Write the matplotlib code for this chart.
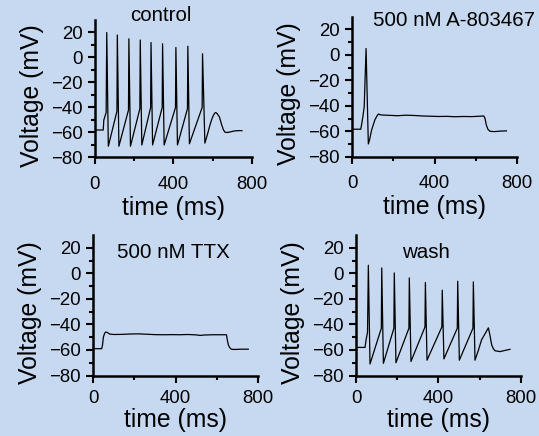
import matplotlib
matplotlib.use('Agg')
import matplotlib.pyplot as plt
from matplotlib.ticker import MultipleLocator

plt.rcParams['font.family'] = ['Liberation Sans', 'DejaVu Sans']

# traces: (time in ms, membrane voltage in mV) vertices
control_t = [0, 42, 45, 57, 60, 68, 112, 114, 122, 171, 173, 181, 229, 231, 239,
             284, 286, 294, 343, 345, 353, 411, 413, 421, 472, 474, 482, 547, 549,
             561, 575, 587, 597, 604, 611, 617, 624, 635, 647, 656, 664, 675, 689,
             710, 730, 750]
control_v = [-58, -58, -50, -44, 20, -71, -43, 18, -71, -42, 15, -71, -41, 14, -70,
             -40, 12, -70, -40, 11, -70, -40, 8, -70, -41, 9, -69, -40, 3,
             -68.5, -61, -54, -49, -46.5, -44.5, -44, -45, -47.5, -54, -58, -59.8, -60, -59.6,
             -58.8, -58.5, -58.5]

a803_t = [0, 41, 45, 52, 58, 67, 78, 85, 94, 110, 120, 127, 140, 180, 220, 260, 300,
          340, 380, 420, 460, 500, 540, 580, 620, 640, 646, 652, 660, 670, 690, 720, 750]
a803_v = [-58.4, -58.4, -55, -48, -40.5, 5, -70, -66, -59, -51, -48, -46.5, -47.2, -47.5,
          -47.8, -47.4, -47.6, -48, -48.2, -48.4, -48.3, -48.6, -48.4, -48.5, -48.2, -48,
          -50, -55, -58.5, -60, -60.3, -59.9, -59.7]

ttx_t = [0, 41, 45, 49, 55, 60, 68, 80, 100, 140, 180, 220, 260, 300, 340, 380, 420,
         460, 500, 520, 540, 580, 620, 648, 652, 657, 665, 673, 690, 720, 754]
ttx_v = [-59, -59, -56, -50, -47, -46, -46.3, -47.6, -47.9, -47.8, -47.5, -47.4, -47.7,
         -48.0, -48.1, -48.0, -48.1, -47.9, -48.2, -48.6, -48.3, -48.1, -48.1, -48.1,
         -52, -56, -58.5, -59.5, -59.6, -59.4, -59.4]

wash_t = [0, 44, 48, 56, 60, 68, 123, 125, 133, 184, 186, 194, 257, 259, 267, 335, 337,
          345, 417, 419, 427, 492, 494, 502, 568, 570, 578, 595, 610, 628, 643, 650, 659,
          667, 675, 699, 720, 748]
wash_v = [-58, -58, -53, -46, 6.3, -71, -43, 4.2, -70.5, -43, 0.3, -70, -43, -3.6, -69,
          -42, -7.2, -68, -42, -13.2, -67, -43, -6.2, -68, -43, -6.7, -68, -60, -52, -47,
          -42.7, -48, -56, -59, -60.6, -61.3, -60.5, -59.5]

titles = ['control', '500 nM A-803467', '500 nM TTX', 'wash']
traces = [(control_t, control_v), (a803_t, a803_v), (ttx_t, ttx_v), (wash_t, wash_v)]

# title anchor in data units (t, V)
title_pos = [(335, 33.5), (495, 27.3), (391, 16.5), (341, 16.5)]

W, H = 539, 436
# axes boxes in pixels: left, right, top, bottom
boxes = [(95, 251.7, 20, 157.5), (352.3, 516.7, 16.7, 156.7),
         (93.3, 257.7, 235, 375.5), (356, 520.7, 235, 375.5)]

bg = '#c6d9f0'
fig = plt.figure(figsize=(W / 100, H / 100), dpi=100, facecolor=bg)

for i in range(4):
    l, r, t, b = boxes[i]
    ax = fig.add_axes([l / W, (H - b) / H, (r - l) / W, (b - t) / H])
    ax.set_facecolor('none')
    ax.plot(traces[i][0], traces[i][1], color='black', linewidth=0.9)
    ax.set_xlim(0, 800)
    ax.set_ylim(-80, 30)
    for s in ['top', 'right']:
        ax.spines[s].set_visible(False)
    for s in ['left', 'bottom']:
        ax.spines[s].set_linewidth(1.8)
    ax.set_xticks([0, 400, 800])
    ax.xaxis.set_minor_locator(MultipleLocator(200))
    ax.set_yticks([-80, -60, -40, -20, 0, 20])
    ax.set_yticks([-70, -50, -30, -10, 10], minor=True)
    ax.tick_params(which='major', direction='out', length=5, width=1.5, labelsize=13.4)
    ax.tick_params(which='minor', direction='out', length=2.8, width=1.5)
    ax.tick_params(axis='x', pad=8 if i < 2 else 5.5)
    ax.tick_params(axis='y', pad=4)
    ax.set_xlabel('time (ms)', fontsize=17.8, labelpad=2.5 if i < 2 else 0.5)
    ax.set_ylabel('Voltage (mV)', fontsize=17.8)
    ax.yaxis.set_label_coords(-51 / (r - l), 0.447)
    ax.text(title_pos[i][0], title_pos[i][1], titles[i], fontsize=14.8,
            ha='center', va='center', clip_on=False)

plt.savefig('out.png', dpi=100, facecolor=bg)
